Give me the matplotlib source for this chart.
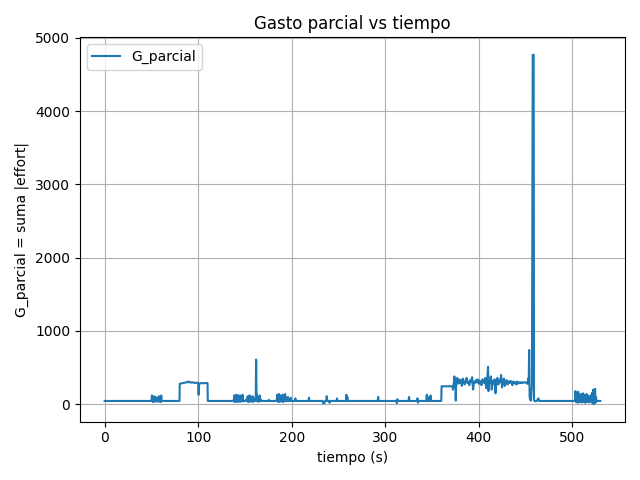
import matplotlib
matplotlib.use("Agg")
import matplotlib.pyplot as plt

# tiempo (s) y gasto parcial
tiempo = [0, 50, 50.5, 51, 51.5, 52, 52.5, 53, 53.5, 54, 54.5, 55, 55.5, 56, 56.5, 57, 57.5, 58, 58.5, 59, 59.5, 60, 60.5, 61, 62,
          80, 80.3, 82, 84, 86, 88, 89, 90, 91, 92, 94, 96, 98, 100, 100.5, 101, 102, 104, 106, 108, 110, 110.3,
          138, 138.5, 139, 139.5, 140, 140.5, 141, 141.5, 142, 142.5, 143, 143.5, 144, 144.5, 145, 145.5, 146, 146.5, 147, 147.5, 148, 149,
          150, 151, 152, 153, 153.5, 154, 154.5, 155, 155.5, 156, 156.5, 157, 157.5, 158, 158.5, 159, 160, 161, 161.5, 162, 162.5,
          163, 163.5, 164, 164.5, 165, 165.5, 166, 166.5, 167, 168, 175, 175.5, 176,
          184, 184.5, 185, 185.5, 186, 186.5, 187, 187.5, 188, 188.5, 189, 189.5, 190, 190.5, 191, 191.5, 192, 192.5, 193, 193.5,
          194, 194.5, 195, 196, 196.5, 197, 197.5, 198, 199, 199.5, 200,
          203, 204, 204.5, 218, 218.5, 219, 233, 233.5, 235, 235.5, 237, 237.5, 238, 240, 240.5, 241, 248, 248.5, 249,
          258, 258.5, 259, 259.5, 260, 292, 292.5, 293, 312, 312.5, 313, 313.5, 325, 325.5, 326, 334, 334.5, 335, 335.5,
          344, 344.5, 345, 345.5, 346, 348, 348.5, 349, 360, 360.3, 372, 372.5,
          373, 374, 375, 375.5, 376, 377, 378, 379, 380, 381, 382, 383, 384, 385, 386, 387, 388, 389, 390, 391, 392, 393, 394,
          395, 396, 397, 398, 399, 400, 401, 402, 403, 404, 405, 406, 407, 408, 409, 410, 410.5, 411, 412, 413, 414, 415, 416,
          417, 418, 419, 420, 421, 422, 423, 424, 425, 426, 427, 428, 429, 430, 431, 432, 433, 434, 435, 436, 437, 438, 439,
          440, 441, 442, 443, 444, 445, 446, 447, 448, 449, 450, 451, 452, 452.5, 453, 453.5, 454, 454.5, 455, 456, 457,
          457.8, 458.8, 459.2, 460, 462, 464, 464.5, 466, 500,
          503, 503.5, 504, 504.5, 505, 505.5, 506, 506.5, 507, 507.5, 508, 508.5, 509, 509.5, 510, 510.5, 511, 511.5, 512, 512.5,
          513, 513.5, 514, 514.5, 515, 515.5, 516, 516.5, 517, 517.5, 518, 518.5, 519, 519.5, 520, 520.5, 521, 521.5, 522, 522.5,
          523, 523.5, 524, 524.5, 525, 525.5, 526, 527, 530]

g_parcial = [45, 45, 120, 40, 95, 30, 110, 45, 80, 35, 100, 45, 60, 40, 45, 90, 35, 110, 40, 45, 85, 30, 120, 45, 45,
             45, 280, 285, 290, 295, 300, 310, 300, 305, 295, 300, 290, 295, 290, 130, 280, 285, 290, 285, 290, 290, 45,
             45, 120, 30, 100, 40, 130, 35, 90, 50, 125, 30, 110, 40, 95, 120, 35, 100, 45, 80, 130, 40, 45,
             45, 60, 45, 110, 30, 90, 45, 120, 35, 100, 40, 80, 45, 110, 30, 90, 45, 70, 45, 610, 45,
             130, 40, 100, 35, 80, 45, 120, 40, 60, 45, 45, 60, 45,
             45, 130, 40, 110, 30, 140, 45, 100, 35, 120, 45, 90, 40, 130, 30, 110, 45, 80, 140, 40,
             90, 45, 45, 100, 40, 70, 45, 45, 90, 45, 45,
             45, 80, 45, 45, 90, 45, 45, 15, 15, 45, 45, 110, 45, 45, 20, 45, 45, 80, 45,
             45, 130, 40, 100, 45, 45, 100, 45, 45, 15, 70, 45, 45, 100, 45, 45, 80, 20, 45,
             45, 130, 40, 100, 45, 45, 120, 45, 45, 245, 245, 200,
             240, 380, 300, 50, 320, 360, 280, 340, 290, 330, 250, 350, 300, 270, 320, 360, 290, 310, 260, 330, 300, 370, 200,
             310, 290, 330, 300, 340, 280, 320, 300, 260, 340, 310, 290, 360, 220, 300, 510, 180, 330, 290, 380, 200, 320, 280,
             340, 150, 300, 360, 270, 330, 300, 400, 230, 310, 350, 250, 300, 330, 270, 310, 290, 320, 300, 260, 310, 290, 300,
             270, 310, 280, 300, 290, 300, 290, 300, 295, 300, 295, 300, 280, 280, 350, 300, 740, 100, 60, 50, 280,
             4770, 4770, 60, 40, 45, 80, 45, 45, 45,
             45, 180, 30, 150, 40, 120, 20, 170, 45, 130, 30, 100, 50, 140, 25, 110, 45, 150, 30, 90,
             45, 130, 20, 100, 40, 140, 30, 120, 45, 90, 25, 110, 45, 70, 40, 130, 20, 160, 30, 200,
             0, 150, 40, 210, 20, 100, 45, 45, 45]

plt.figure(figsize=(6.4, 4.8), dpi=100)
plt.plot(tiempo, g_parcial, label="G_parcial")
plt.title("Gasto parcial vs tiempo")
plt.xlabel("tiempo (s)")
plt.ylabel("G_parcial = suma |effort|")
plt.grid(True)
plt.legend(loc="upper left")
plt.tight_layout()
plt.savefig("out.png")
